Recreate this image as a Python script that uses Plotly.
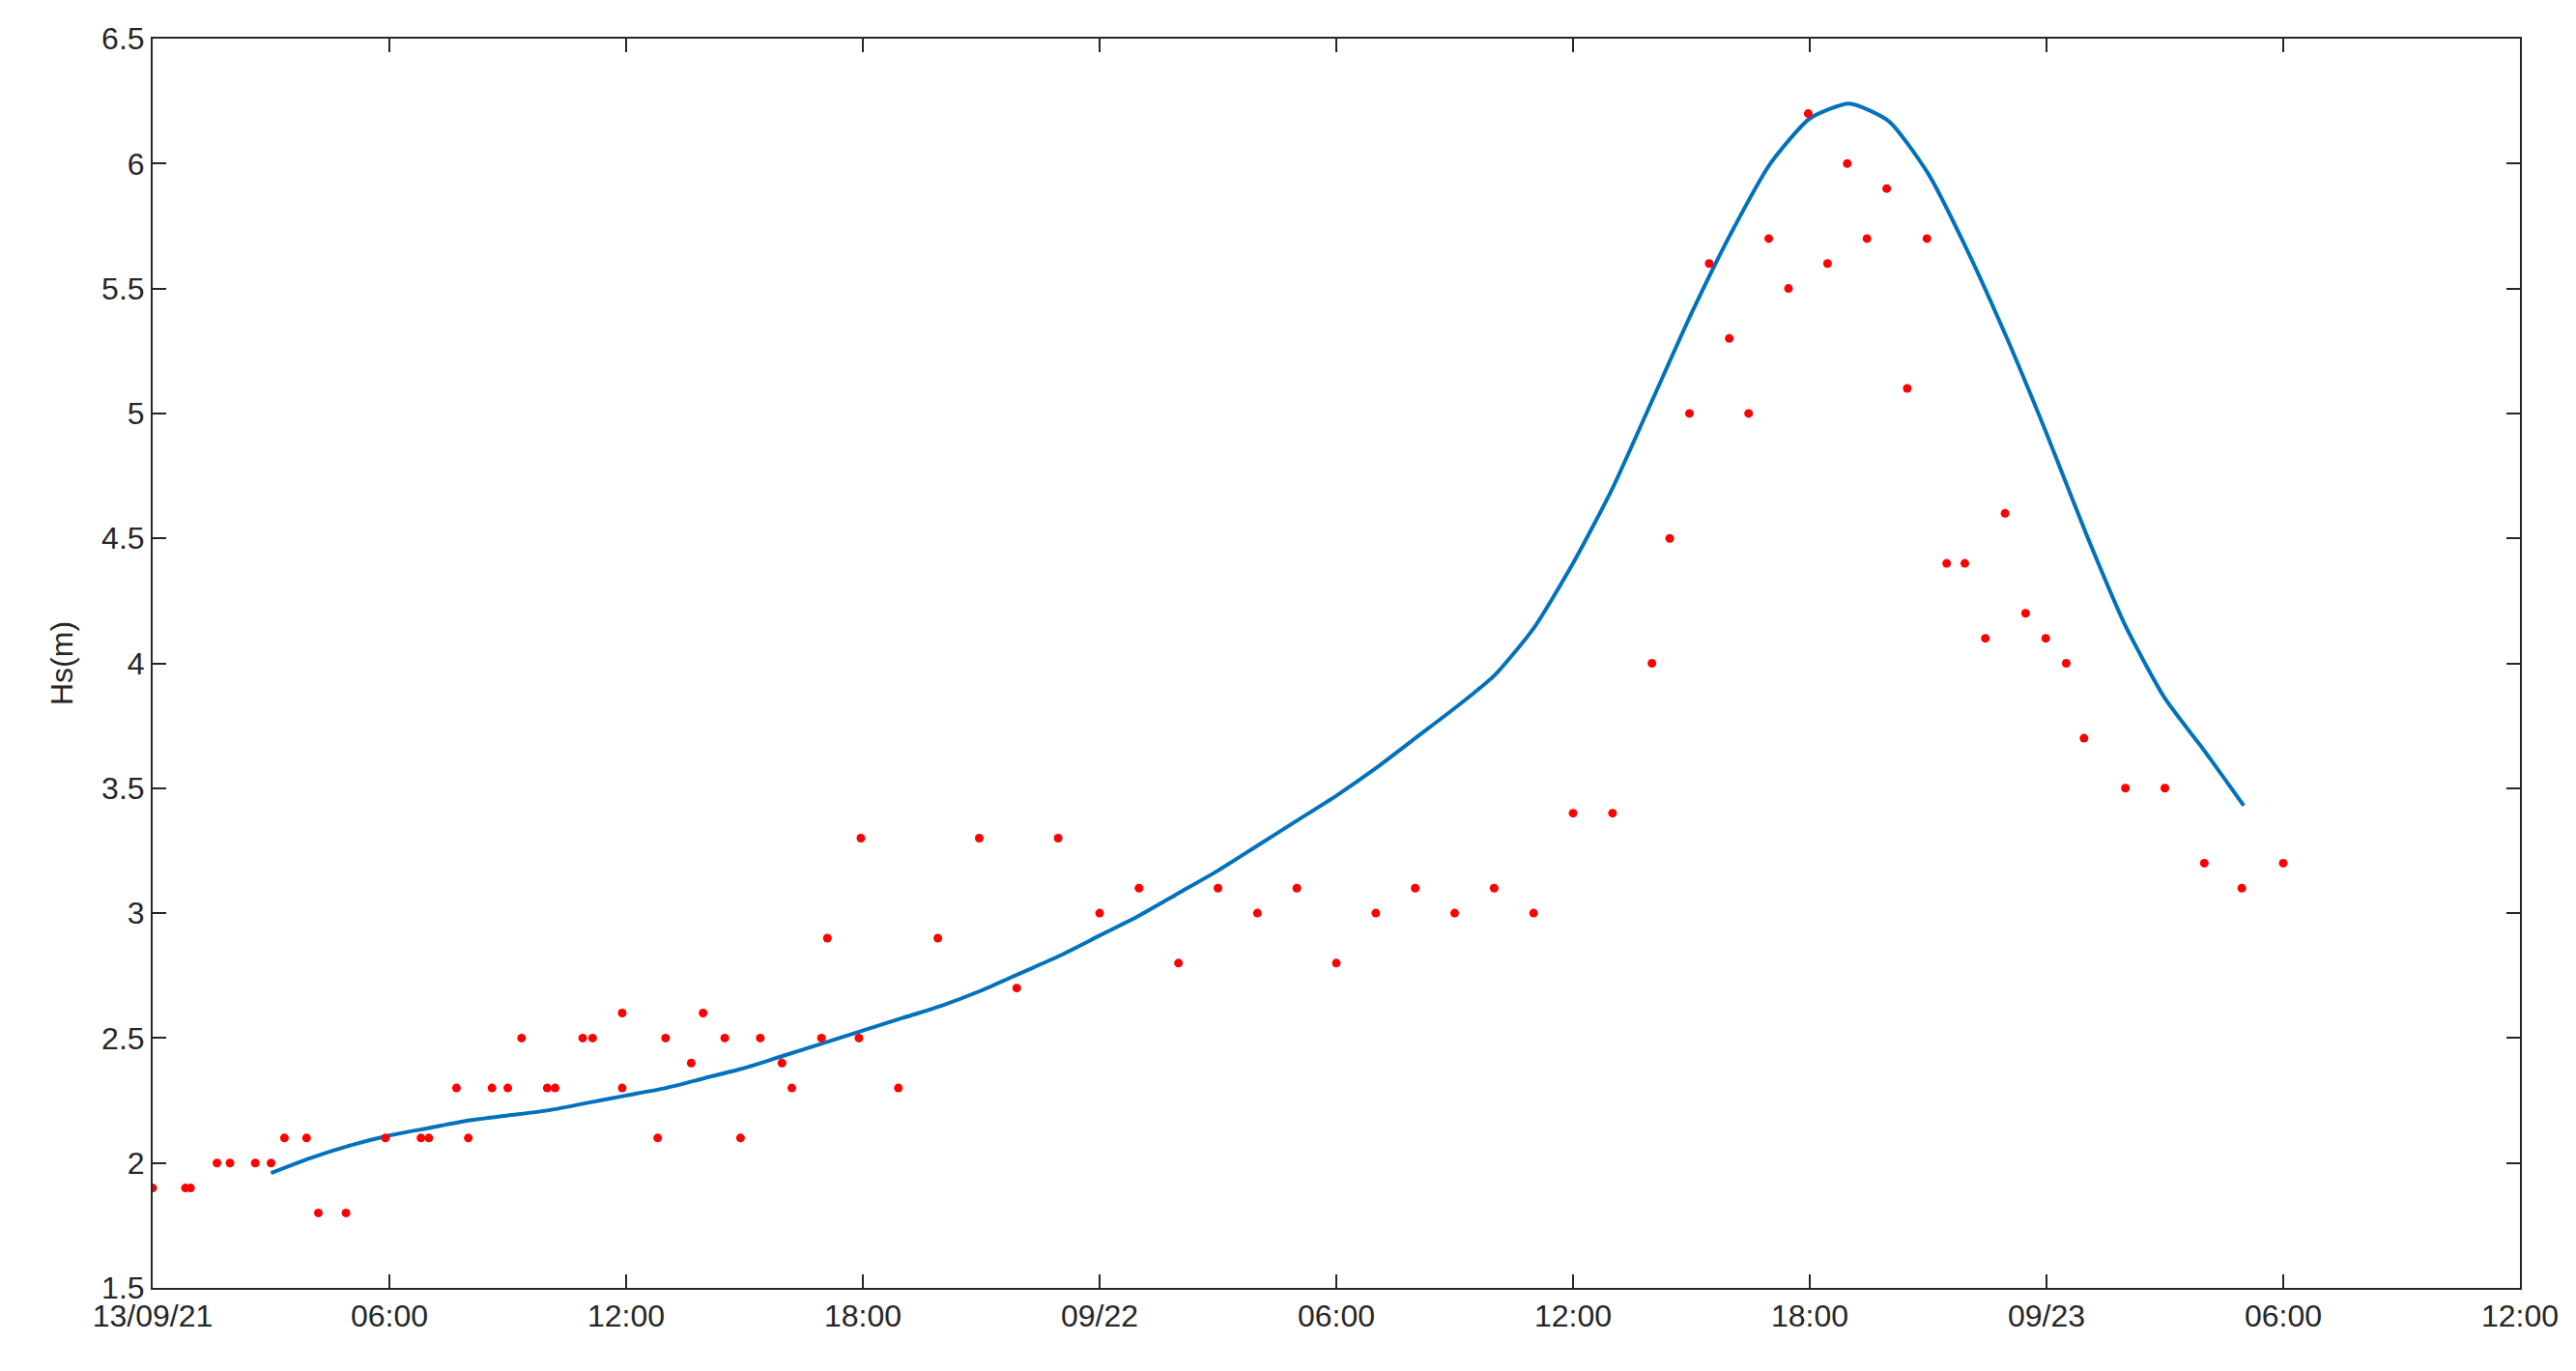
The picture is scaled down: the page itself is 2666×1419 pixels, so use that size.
import pandas as pd
import plotly.graph_objects as go

start = pd.Timestamp("2021-09-13 00:00")

# observed Hs (hours after start, metres)
obs_hours = [0, 0.83, 0.96, 1.63, 1.96, 2.6, 3.0, 3.34, 3.9, 4.2, 4.9, 5.9, 6.8, 7.0, 7.7, 8.0,
             8.6, 9.0, 9.35, 10.0, 10.2, 10.9, 11.15, 11.9, 11.9, 12.8, 13.0, 13.65, 13.95, 14.5,
             14.9, 15.4, 15.95, 16.2, 16.95, 17.1, 17.9, 17.95, 18.9, 19.9, 20.95, 21.9, 22.95,
             24.0, 25.0, 26.0, 27.0, 28.0, 29.0, 30.0, 31.0, 32.0, 33.0, 34.0, 35.0, 36.0, 37.0,
             38.0, 38.45, 38.95, 39.45, 39.96, 40.45, 40.96, 41.46, 41.96, 42.45, 42.95, 43.45,
             43.95, 44.47, 44.97, 45.47, 45.93, 46.45, 46.95, 47.47, 47.98, 48.5, 48.95, 50.0,
             51.0, 52.0, 52.95, 54.0]
obs_hs = [1.9, 1.9, 1.9, 2.0, 2.0, 2.0, 2.0, 2.1, 2.1, 1.8, 1.8, 2.1, 2.1, 2.1, 2.3, 2.1,
          2.3, 2.3, 2.5, 2.3, 2.3, 2.5, 2.5, 2.6, 2.3, 2.1, 2.5, 2.4, 2.6, 2.5,
          2.1, 2.5, 2.4, 2.3, 2.5, 2.9, 2.5, 3.3, 2.3, 2.9, 3.3, 2.7, 3.3,
          3.0, 3.1, 2.8, 3.1, 3.0, 3.1, 2.8, 3.0, 3.1, 3.0, 3.1, 3.0, 3.4, 3.4,
          4.0, 4.5, 5.0, 5.6, 5.3, 5.0, 5.7, 5.5, 6.2, 5.6, 6.0, 5.7,
          5.9, 5.1, 5.7, 4.4, 4.4, 4.1, 4.6, 4.2, 4.1, 4.0, 3.7, 3.5,
          3.5, 3.2, 3.1, 3.2]

# modelled Hs
model_hours = list(range(3, 54))
model_hs = [1.96, 2.02, 2.07, 2.11, 2.14, 2.17, 2.19, 2.21, 2.24, 2.27, 2.3, 2.34, 2.38, 2.43,
            2.48, 2.53, 2.58, 2.63, 2.69, 2.76, 2.83, 2.91, 2.99, 3.08, 3.17, 3.27, 3.37, 3.47,
            3.58, 3.7, 3.82, 3.95, 4.14, 4.4, 4.7, 5.05, 5.4, 5.72, 6.0, 6.18, 6.24, 6.17, 5.96,
            5.65, 5.3, 4.92, 4.52, 4.15, 3.86, 3.65, 3.43]

tick_hours = list(range(0, 61, 6))
tick_labels = ["13/09/21", "06:00", "12:00", "18:00", "09/22", "06:00", "12:00", "18:00",
               "09/23", "06:00", "12:00"]

def to_time(hours):
    return [start + pd.Timedelta(hours=h) for h in hours]

fig = go.Figure()
fig.add_trace(go.Scatter(x=to_time(model_hours), y=model_hs, mode="lines",
                         line=dict(color="#0072BD", width=4, shape="spline", smoothing=0.6),
                         showlegend=False))
fig.add_trace(go.Scatter(x=to_time(obs_hours), y=obs_hs, mode="markers",
                         marker=dict(color="#FF0000", size=9), showlegend=False))

axis_style = dict(showline=True, mirror="ticks", linecolor="#262626", linewidth=2,
                  ticks="inside", ticklen=14, tickwidth=2, tickcolor="#262626",
                  showgrid=False, zeroline=False, tickfont=dict(size=32, color="#262626"))

fig.update_layout(
    width=2666, height=1419, paper_bgcolor="white", plot_bgcolor="white",
    font=dict(family="Liberation Sans, Arial", color="#262626"),
    margin=dict(l=150, r=66, t=32, b=94),
    xaxis=dict(range=[start, start + pd.Timedelta(hours=60)],
               tickvals=to_time(tick_hours), ticktext=tick_labels, **axis_style),
    yaxis=dict(range=[1.5, 6.5], dtick=0.5, title=dict(text="Hs(m)", font=dict(size=32), standoff=20),
               **axis_style),
)

fig.write_html("out.html")
